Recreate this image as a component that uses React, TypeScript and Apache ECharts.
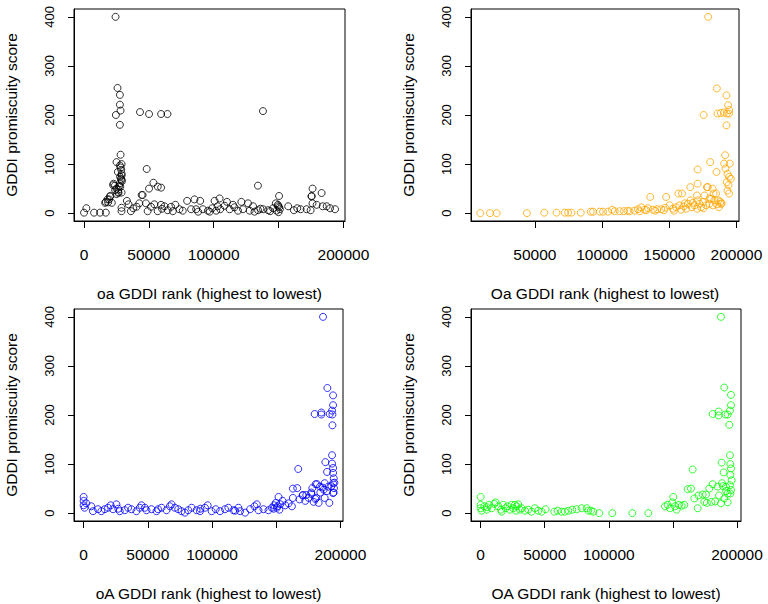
import React, { useEffect, useRef } from "react";
import * as echarts from "echarts";

// ---- data: [rank, GDDI promiscuity score] ----
const oaPoints: [number, number][] = [
  [24290, 400], [25840, 255], [27650, 241], [27650, 221], [28170, 209], [24550, 200], [27650, 180],
  [43150, 206], [50130, 202], [59430, 202], [64340, 202], [137990, 208], [28170, 119], [25060, 104],
  [28940, 100], [48320, 90], [27650, 97], [26100, 84], [28940, 77], [28940, 68], [27650, 61],
  [53490, 62], [56850, 54], [59430, 52], [50130, 50], [134100, 56], [44440, 37], [22740, 60],
  [23780, 56], [25060, 50], [26360, 43], [28940, 42], [19900, 34], [18090, 28], [16280, 21],
  [18600, 22], [176200, 50], [175400, 34], [183200, 41], [176200, 20], [150400, 35],
  [28500, 70], [29000, 80], [28700, 88], [28200, 93], [27800, 74], [29200, 65], [26500, 48], [27000, 55],
  [0, 1], [1800, 10], [7740, 1], [12390, 1], [16780, 1], [16780, 23], [19360, 28], [20390, 35],
  [21420, 21], [22450, 57], [24000, 47], [25040, 39], [26580, 41], [27940, 54], [28900, 4], [28900, 11],
  [33040, 25], [34330, 18], [36130, 4], [37940, 10], [40520, 13], [42590, 20], [45170, 37], [47750, 20],
  [49040, 4], [51620, 13], [54200, 18], [56780, 4], [59360, 17], [60130, 9], [64530, 6], [67110, 13],
  [70460, 17], [73560, 8], [76140, 5], [79500, 25], [82590, 8], [85170, 28], [86460, 8], [89560, 25],
  [91630, 8], [95500, 5], [98850, 10], [100660, 25], [101950, 5], [104530, 30], [105050, 8],
  [108400, 15], [110210, 23], [112280, 8], [114860, 17], [118730, 5], [121310, 23], [122600, 8],
  [126470, 20], [127760, 5], [130340, 14], [134200, 6], [138070, 8], [141950, 6], [145820, 10],
  [147880, 20], [148400, 5], [149690, 14], [150000, 2], [150500, 12], [149500, 17], [151000, 8],
  [157440, 14], [161830, 6], [164410, 10], [167000, 8], [171640, 8], [174740, 6], [175520, 35],
  [179390, 17], [184030, 14], [187130, 14], [189710, 10], [193580, 8], [97000, 3], [116000, 12],
  [131500, 3], [136000, 9], [143500, 4], [68500, 4], [62000, 14], [88000, 3], [103000, 14],
];

const OaPoints: [number, number][] = [
  [179020, 400], [185440, 254], [192600, 240], [193830, 220], [194560, 210], [175570, 200],
  [185930, 203], [188400, 204], [190860, 205], [192840, 203], [194560, 203], [192600, 179],
  [191610, 118], [180500, 104], [190860, 101], [195050, 101], [171130, 89], [185190, 84],
  [193340, 80], [194560, 74], [192840, 63], [194070, 57], [193340, 46], [194560, 40], [191850, 91],
  [195790, 70], [165700, 53], [171130, 60], [178050, 53], [156820, 40], [159530, 40], [135850, 33],
  [147690, 33], [170640, 36], [182230, 50], [188400, 19], [182970, 40],
  [9410, 0], [16590, 0], [21540, 0], [44060, 0], [56930, 1], [66090, 1], [72280, 1], [74750, 1],
  [77230, 1], [84160, 1], [91580, 3], [93300, 3], [98260, 3], [100740, 3], [104450, 3], [107420, 7],
  [109400, 4], [113110, 4], [116330, 4], [120540, 4], [124250, 5], [126730, 8], [129200, 12],
  [131680, 7], [134150, 10], [137860, 7], [141080, 8], [144050, 8], [147020, 11], [150240, 16],
  [152710, 9], [155190, 12], [157660, 16], [158900, 7], [160880, 14], [162610, 9], [163850, 19],
  [165830, 26], [166820, 12], [168800, 16], [170780, 9], [171270, 26], [172510, 19], [173750, 12],
  [174990, 23], [176230, 36], [177460, 16], [178700, 53], [179940, 19], [181180, 29], [182420, 16],
  [183650, 26], [184890, 40], [185630, 18], [186620, 26], [188110, 23], [189090, 20],
  [119000, 5], [128000, 4], [133000, 6], [139500, 5], [146000, 6], [153500, 5], [167500, 21],
  [175500, 10], [180000, 30], [187000, 12], [161500, 20],
];

const oAPoints: [number, number][] = [
  [186470, 400], [189860, 255], [194300, 240], [194300, 220], [193520, 209], [179950, 202],
  [185170, 205], [185170, 201], [191690, 202], [193780, 201], [193780, 179], [193520, 118],
  [188300, 104], [193520, 101], [167170, 90], [189600, 84], [194300, 92], [194300, 82],
  [194820, 71], [194300, 61], [195000, 51], [194300, 41], [163000, 50], [166390, 51], [180730, 59],
  [187780, 61], [184100, 54], [190640, 54], [178120, 51], [173430, 37], [170820, 37], [177340, 39],
  [181250, 31], [163000, 31], [187000, 48],
  [0, 33], [0, 25], [0, 16], [780, 11], [2080, 20], [5990, 14], [7290, 4], [11200, 8], [13800, 4],
  [16400, 8], [19010, 11], [21090, 16], [22900, 8], [25520, 18], [28120, 4], [32030, 6], [34630, 11],
  [37240, 8], [41140, 4], [43750, 11], [45050, 16], [47650, 11], [48960, 6], [52860, 8], [56770, 4],
  [60670, 11], [64580, 6], [67180, 14], [68490, 18], [71090, 11], [73690, 8], [76300, 4], [78900, 1],
  [81500, 6], [84100, 11], [88010, 6], [90620, 4], [94520, 11], [96610, 16], [99730, 4], [102860, 8],
  [106240, 4], [110150, 8], [112750, 11], [116660, 6], [120570, 11], [121870, 4], [125780, 1],
  [129680, 8], [133070, 14], [134890, 18], [136190, 6], [140100, 8], [144000, 6], [146610, 11],
  [148430, 16], [149730, 21], [150520, 11], [151820, 33], [153120, 18], [154940, 25], [157020, 16],
  [159630, 20], [162230, 14], [168210, 28], [170560, 36], [172640, 25], [175240, 31], [177330, 42],
  [179150, 23], [180460, 29], [181760, 59], [183060, 21], [184360, 42], [186190, 52], [187750, 31],
  [189570, 45], [191390, 21], [192960, 55], [194780, 42], [195300, 62], [148000, 9], [151000, 14],
  [152500, 7], [27000, 9], [58000, 8], [91000, 9], [118000, 5],
];

const OAPoints: [number, number][] = [
  [187500, 400], [190100, 256], [195300, 241], [195300, 220], [194500, 209], [181000, 202],
  [185700, 207], [185700, 199], [190900, 201], [192700, 201], [194000, 180], [194500, 118],
  [188000, 103], [194800, 100], [165400, 89], [189600, 83], [195300, 91], [194800, 78],
  [195800, 67], [194500, 57], [195300, 47], [194800, 40], [161500, 49], [164100, 50], [181000, 59],
  [188300, 61], [184900, 54], [191400, 54], [178400, 50], [173200, 38], [175800, 38], [192700, 40],
  [190100, 30], [187500, 20], [192700, 22], [169300, 10], [166700, 30], [174500, 23],
  [0, 33], [0, 17], [0, 10], [780, 5], [2860, 14], [4680, 7], [6500, 17], [8580, 10], [10660, 19],
  [11700, 22], [13790, 14], [15870, 7], [17690, 17], [19510, 10], [21070, 14], [22890, 7],
  [24190, 17], [25490, 10], [26790, 17], [28090, 14], [29390, 18], [30690, 7], [31990, 10],
  [34590, 5], [37190, 7], [39790, 3], [42400, 10], [45000, 5], [47600, 3], [50720, 8], [57480, 3],
  [60080, 5], [63200, 3], [65800, 3], [68400, 5], [71530, 7], [74910, 8], [78810, 10], [82710, 10],
  [84010, 5], [86090, 5], [87910, 3], [92600, 0], [102740, 0], [118350, 0], [130830, 0],
  [143830, 14], [145920, 17], [147740, 10], [149560, 22], [150340, 33], [151640, 14], [152940, 7],
  [154760, 17], [156840, 15], [158920, 17], [170000, 36], [176500, 21], [183000, 24], [186000, 36],
  [189000, 55], [191500, 45], [180000, 23], [5000, 12], [16500, 3], [27500, 5],
];

const yTicks = [0, 100, 200, 300, 400];
const xTicksFull = [0, 50000, 100000, 150000, 200000];
const xLabelsSkip = [0, 50000, 100000, 200000];
const xTicksOa = [50000, 100000, 150000, 200000];

const xTitles = [
  "oa GDDI rank (highest to lowest)",
  "Oa GDDI rank (highest to lowest)",
  "oA GDDI rank (highest to lowest)",
  "OA GDDI rank (highest to lowest)",
];
const yTitle = "GDDI promiscuity score";
const colors = ["#000000", "#FFA500", "#0000FF", "#00FF00"];

const FONT = "'Liberation Sans', Arial, Helvetica, sans-serif";

export default function App() {
  const ref = useRef<HTMLDivElement>(null);
  useEffect(() => {
    if (!ref.current) return;
    const chart = echarts.init(ref.current, undefined, { renderer: "svg" });

    const panels = [
      { grid: { left: 74, top: 9, width: 271, height: 212 }, xr: [-7740, 201240], ticks: xTicksFull, labels: xLabelsSkip, data: oaPoints },
      { grid: { left: 471, top: 9, width: 268, height: 212 }, xr: [2450, 201930], ticks: xTicksOa, labels: xTicksOa, data: OaPoints },
      { grid: { left: 74, top: 309, width: 269, height: 212 }, xr: [-7490, 202030], ticks: xTicksFull, labels: xLabelsSkip, data: oAPoints },
      { grid: { left: 471, top: 309, width: 270, height: 212 }, xr: [-7490, 203120], ticks: xTicksFull, labels: xLabelsSkip, data: OAPoints },
    ];

    const option: any = {
      animation: false,
      backgroundColor: "#ffffff",
      grid: panels.map((p) => ({
        ...p.grid,
        show: true,
        borderColor: "#000",
        borderWidth: 1,
        backgroundColor: "transparent",
        containLabel: false,
      })),
      xAxis: panels.map((p, i) => ({
        type: "value",
        gridIndex: i,
        position: "bottom",
        min: p.xr[0],
        max: p.xr[1],
        splitLine: { show: false },
        axisLine: { show: true, onZero: false, lineStyle: { color: "#000", width: 1 } },
        axisTick: { show: true, length: 7, customValues: p.ticks, lineStyle: { color: "#000", width: 1 } },
        axisLabel: {
          show: true,
          customValues: p.labels,
          margin: 25,
          color: "#000",
          fontSize: 15.5,
          fontFamily: FONT,
          formatter: (v: number) => String(v),
        },
        name: xTitles[i],
        nameLocation: "middle",
        nameGap: 64,
        nameTextStyle: { color: "#000", fontSize: 15.5, fontFamily: FONT },
      })),
      yAxis: panels.map((p, i) => ({
        type: "value",
        gridIndex: i,
        position: "left",
        min: -16,
        max: 416,
        splitLine: { show: false },
        axisLine: { show: true, onZero: false, lineStyle: { color: "#000", width: 1 } },
        axisTick: { show: true, length: 6, customValues: yTicks, lineStyle: { color: "#000", width: 1 } },
        axisLabel: {
          show: true,
          customValues: yTicks,
          rotate: 90,
          margin: 18,
          color: "#000",
          fontSize: 13,
          fontFamily: FONT,
        },
        name: yTitle,
        nameLocation: "middle",
        nameGap: 55,
        nameTextStyle: { color: "#000", fontSize: 15.5, fontFamily: FONT },
      })),
      series: panels.map((p, i) => ({
        type: "scatter",
        xAxisIndex: i,
        yAxisIndex: i,
        data: p.data,
        symbol: "circle",
        symbolSize: 7,
        itemStyle: { color: "rgba(0,0,0,0)", borderColor: colors[i], borderWidth: 1 },
        emphasis: { disabled: true },
      })),
    };
    chart.setOption(option);
    return () => chart.dispose();
  }, []);
  return (
    <div
      ref={ref}
      style={{ position: "fixed", left: 0, top: 0, width: 768, height: 604, background: "#fff" }}
    />
  );
}
